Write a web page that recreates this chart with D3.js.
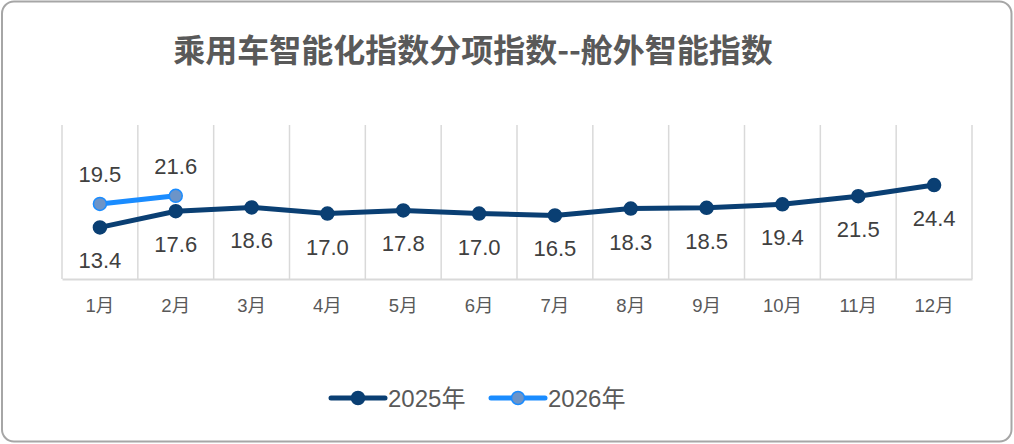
<!DOCTYPE html>
<html>
<head>
<meta charset="utf-8">
<script src="https://cdn.jsdelivr.net/npm/d3@7"></script>
<style>
  body { margin: 0; background: #fff; }
  svg { display: block; font-family: "Liberation Sans", Arial, "Noto Sans CJK SC", sans-serif; }
</style>
</head>
<body>
<svg id="chart"></svg>
<script>
const months = ['1月', '2月', '3月', '4月', '5月', '6月', '7月', '8月', '9月', '10月', '11月', '12月'];
const values2025 = [13.4, 17.6, 18.6, 17.0, 17.8, 17.0, 16.5, 18.3, 18.5, 19.4, 21.5, 24.4];
const values2026 = [19.5, 21.6];
const seriesNames = ['2025年', '2026年'];
const yTicks = [0, 40];

const width = 1014, height = 444;
const plotLeft = 62, plotRight = 972, plotTop = 125, plotBottom = 279;
const col2025 = '#0a3f73', col2026 = '#1a8cff', fill2026 = '#6c94c8';

const svg = d3.select('#chart')
    .attr('width', width)
    .attr('height', height);

// outer frame
svg.append('rect')
    .attr('x', 2).attr('y', 1.5)
    .attr('width', width - 4.5).attr('height', height - 4)
    .attr('rx', 12)
    .attr('fill', '#fff')
    .attr('stroke', '#a6a6a6')
    .attr('stroke-width', 2);

svg.append('text')
    .attr('x', 473).attr('y', 62)
    .attr('text-anchor', 'middle')
    .attr('font-family', '"Noto Sans CJK SC", sans-serif')
    .attr('font-weight', 'bold')
    .attr('font-size', 32)
    .attr('fill', '#595959')
    .text('乘用车智能化指数分项指数--舱外智能指数');

const xScale = d3.scaleBand()
    .domain(months)
    .range([plotLeft, plotRight]);
const yScale = d3.scaleLinear()
    .domain(d3.extent(yTicks))
    .range([plotBottom, plotTop]);
const cx = (i) => xScale(months[i]) + xScale.bandwidth() / 2;

// vertical gridlines at category boundaries
const bounds = months.map((m) => xScale(m)).concat([plotRight]);
svg.append('g')
    .selectAll('line')
    .data(bounds)
    .enter()
    .append('line')
    .attr('x1', (d) => d).attr('x2', (d) => d)
    .attr('y1', plotTop).attr('y2', plotBottom)
    .attr('stroke', '#d9d9d9')
    .attr('stroke-width', 1.5);

// x axis (labels styled after the call)
const xAxis = d3.axisBottom(xScale).tickSize(0).tickPadding(20);
const gx = svg.append('g')
    .attr('transform', `translate(0, ${plotBottom})`)
    .call(xAxis);
gx.select('.domain').attr('stroke', '#d9d9d9').attr('stroke-width', 2);
gx.selectAll('.tick text')
    .attr('font-size', 18.5)
    .attr('font-family', '"Liberation Sans", Arial, "Noto Sans CJK SC", sans-serif')
    .attr('fill', '#595959');
gx.attr('font-size', 18.5);

const line = d3.line()
    .x((d, i) => cx(i))
    .y((d) => yScale(d));

function drawSeries(vals, stroke, fill, dy) {
    svg.append('path')
        .datum(vals)
        .attr('d', line)
        .attr('fill', 'none')
        .attr('stroke', stroke)
        .attr('stroke-width', 5)
        .attr('stroke-linejoin', 'round');
    svg.append('g')
        .selectAll('circle')
        .data(vals)
        .enter()
        .append('circle')
        .attr('cx', (d, i) => cx(i))
        .attr('cy', (d) => yScale(d))
        .attr('r', 6.5)
        .attr('fill', fill)
        .attr('stroke', stroke)
        .attr('stroke-width', 1.5);
    svg.append('g')
        .selectAll('text')
        .data(vals)
        .enter()
        .append('text')
        .attr('x', (d, i) => cx(i))
        .attr('y', (d) => yScale(d) + dy)
        .attr('text-anchor', 'middle')
        .attr('font-size', 22)
        .attr('fill', '#404040')
        .text((d) => d.toFixed(1));
}

drawSeries(values2025, col2025, col2025, 41);
drawSeries(values2026, col2026, fill2026, -22);

// legend
const legend = [
    { name: seriesNames[0], stroke: col2025, fill: col2025, x: 331 },
    { name: seriesNames[1], stroke: col2026, fill: fill2026, x: 491 }
];
const lg = svg.append('g')
    .selectAll('g')
    .data(legend)
    .enter()
    .append('g')
    .attr('transform', (d) => `translate(${d.x}, 398)`);
lg.append('line')
    .attr('x1', 0).attr('x2', 54)
    .attr('stroke', (d) => d.stroke)
    .attr('stroke-width', 5)
    .attr('stroke-linecap', 'round');
lg.append('circle')
    .attr('cx', 27).attr('r', 6.5)
    .attr('fill', (d) => d.fill)
    .attr('stroke', (d) => d.stroke)
    .attr('stroke-width', 1.5);
lg.append('text')
    .attr('x', 57).attr('y', 9)
    .attr('font-size', 24)
    .attr('fill', '#595959')
    .text((d) => d.name);
</script>
</body>
</html>
